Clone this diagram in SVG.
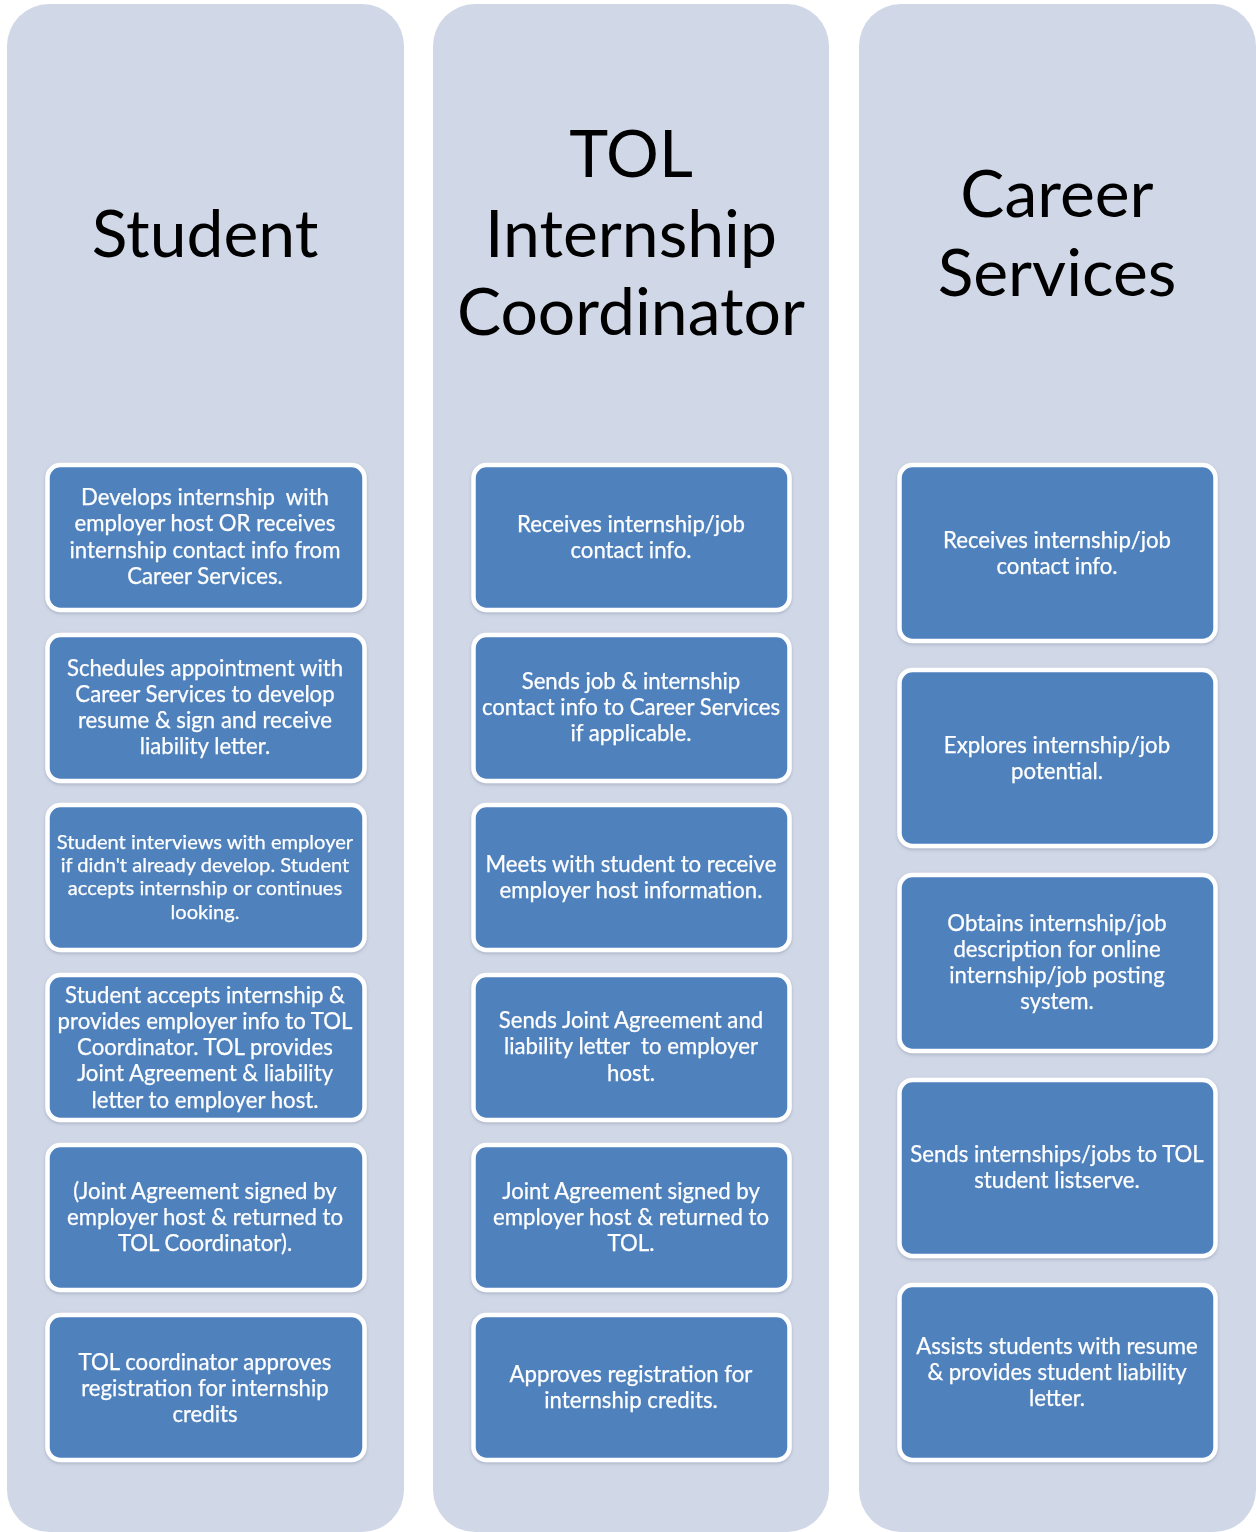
<svg xmlns="http://www.w3.org/2000/svg" width="1256" height="1532" viewBox="0 0 1256 1532">
<style>
.col{fill:#d0d7e6}
.box{fill:#4f81bd;stroke:#ffffff;stroke-width:4.5}
.t{font-family:Lato,"Open Sans","Liberation Sans",sans-serif;fill:#ffffff;font-size:22.2px;text-anchor:middle;stroke:#ffffff;stroke-width:0.25}
.ts{font-size:20.1px}
.pre{white-space:pre}
.h{font-family:Lato,"Open Sans","Liberation Sans",sans-serif;fill:#000000;font-size:66px;text-anchor:middle}
</style>
<defs>
<filter id="sh" x="-5%" y="-5%" width="110%" height="115%">
<feDropShadow dx="0" dy="1.5" stdDeviation="1.5" flood-color="#8090a8" flood-opacity="0.5"/>
</filter>
</defs>
<rect width="1256" height="1532" fill="#ffffff"/>
<g id="col-student">
<rect class="col" x="7" y="4" width="397" height="1528" rx="42"/>
<text class="h" x="205" y="257">Student</text>
</g>
<g id="col-tol">
<rect class="col" x="433" y="4" width="396" height="1528" rx="42"/>
<text class="h" x="631" y="177">TOL</text>
<text class="h" x="631" y="257">Internship</text>
<text class="h" x="631" y="335">Coordinator</text>
</g>
<g id="col-career">
<rect class="col" x="859" y="4" width="397" height="1528" rx="42"/>
<text class="h" x="1057" y="217">Career</text>
<text class="h" x="1057" y="296">Services</text>
</g>
<g id="connectors"></g>
<g id="s1" filter="url(#sh)"><rect class="box" x="47.5" y="465" width="317" height="145" rx="13"/>
<text class="t pre" x="205" y="505">Develops internship  with</text><text class="t" x="205" y="531">employer host OR receives</text><text class="t" x="205" y="558">internship contact info from</text><text class="t" x="205" y="584">Career Services.</text></g>
<g id="s2" filter="url(#sh)"><rect class="box" x="47.5" y="635" width="317" height="146" rx="13"/>
<text class="t" x="205" y="676">Schedules appointment with</text><text class="t" x="205" y="702">Career Services to develop</text><text class="t" x="205" y="728">resume &amp; sign and receive</text><text class="t" x="205" y="754">liability letter.</text></g>
<g id="s3" filter="url(#sh)"><rect class="box" x="47.5" y="805" width="317" height="145" rx="13"/>
<text class="t ts" x="205" y="849">Student interviews with employer</text><text class="t ts" x="205" y="872">if didn't already develop. Student</text><text class="t ts" x="205" y="895">accepts internship or continues</text><text class="t ts" x="205" y="919">looking.</text></g>
<g id="s4" filter="url(#sh)"><rect class="box" x="47.5" y="975" width="317" height="145" rx="13"/>
<text class="t" x="205" y="1003">Student accepts internship &amp;</text><text class="t" x="205" y="1029">provides employer info to TOL</text><text class="t" x="205" y="1055">Coordinator. TOL provides</text><text class="t" x="205" y="1081">Joint Agreement &amp; liability</text><text class="t" x="205" y="1108">letter to employer host.</text></g>
<g id="s5" filter="url(#sh)"><rect class="box" x="47.5" y="1145" width="317" height="145" rx="13"/>
<text class="t" x="205" y="1199">(Joint Agreement signed by</text><text class="t" x="205" y="1225">employer host &amp; returned to</text><text class="t" x="205" y="1251">TOL Coordinator).</text></g>
<g id="s6" filter="url(#sh)"><rect class="box" x="47.5" y="1315" width="317" height="145" rx="13"/>
<text class="t" x="205" y="1370">TOL coordinator approves</text><text class="t" x="205" y="1396">registration for internship</text><text class="t" x="205" y="1422">credits</text></g>
<g id="m1" filter="url(#sh)"><rect class="box" x="473.5" y="465" width="316" height="145" rx="13"/>
<text class="t" x="631" y="532">Receives internship/job</text><text class="t" x="631" y="558">contact info.</text></g>
<g id="m2" filter="url(#sh)"><rect class="box" x="473.5" y="635" width="316" height="146" rx="13"/>
<text class="t" x="631" y="689">Sends job &amp; internship</text><text class="t" x="631" y="715">contact info to Career Services</text><text class="t" x="631" y="741">if applicable.</text></g>
<g id="m3" filter="url(#sh)"><rect class="box" x="473.5" y="805" width="316" height="145" rx="13"/>
<text class="t" x="631" y="872">Meets with student to receive</text><text class="t" x="631" y="898">employer host information.</text></g>
<g id="m4" filter="url(#sh)"><rect class="box" x="473.5" y="975" width="316" height="145" rx="13"/>
<text class="t" x="631" y="1028">Sends Joint Agreement and</text><text class="t pre" x="631" y="1054">liability letter  to employer</text><text class="t" x="631" y="1081">host.</text></g>
<g id="m5" filter="url(#sh)"><rect class="box" x="473.5" y="1145" width="316" height="145" rx="13"/>
<text class="t" x="631" y="1199">Joint Agreement signed by</text><text class="t" x="631" y="1225">employer host &amp; returned to</text><text class="t" x="631" y="1251">TOL.</text></g>
<g id="m6" filter="url(#sh)"><rect class="box" x="473.5" y="1315" width="316" height="145" rx="13"/>
<text class="t" x="631" y="1382">Approves registration for</text><text class="t" x="631" y="1408">internship credits.</text></g>
<g id="c1" filter="url(#sh)"><rect class="box" x="899.5" y="465" width="316" height="176" rx="13"/>
<text class="t" x="1057" y="548">Receives internship/job</text><text class="t" x="1057" y="574">contact info.</text></g>
<g id="c2" filter="url(#sh)"><rect class="box" x="899.5" y="670" width="316" height="176" rx="13"/>
<text class="t" x="1057" y="753">Explores internship/job</text><text class="t" x="1057" y="779">potential.</text></g>
<g id="c3" filter="url(#sh)"><rect class="box" x="899.5" y="875" width="316" height="176" rx="13"/>
<text class="t" x="1057" y="931">Obtains internship/job</text><text class="t" x="1057" y="957">description for online</text><text class="t" x="1057" y="983">internship/job posting</text><text class="t" x="1057" y="1009">system.</text></g>
<g id="c4" filter="url(#sh)"><rect class="box" x="899.5" y="1080" width="316" height="176" rx="13"/>
<text class="t" x="1057" y="1162">Sends internships/jobs to TOL</text><text class="t" x="1057" y="1188">student listserve.</text></g>
<g id="c5" filter="url(#sh)"><rect class="box" x="899.5" y="1285" width="316" height="175" rx="13"/>
<text class="t" x="1057" y="1354">Assists students with resume</text><text class="t" x="1057" y="1380">&amp; provides student liability</text><text class="t" x="1057" y="1406">letter.</text></g>
</svg>
